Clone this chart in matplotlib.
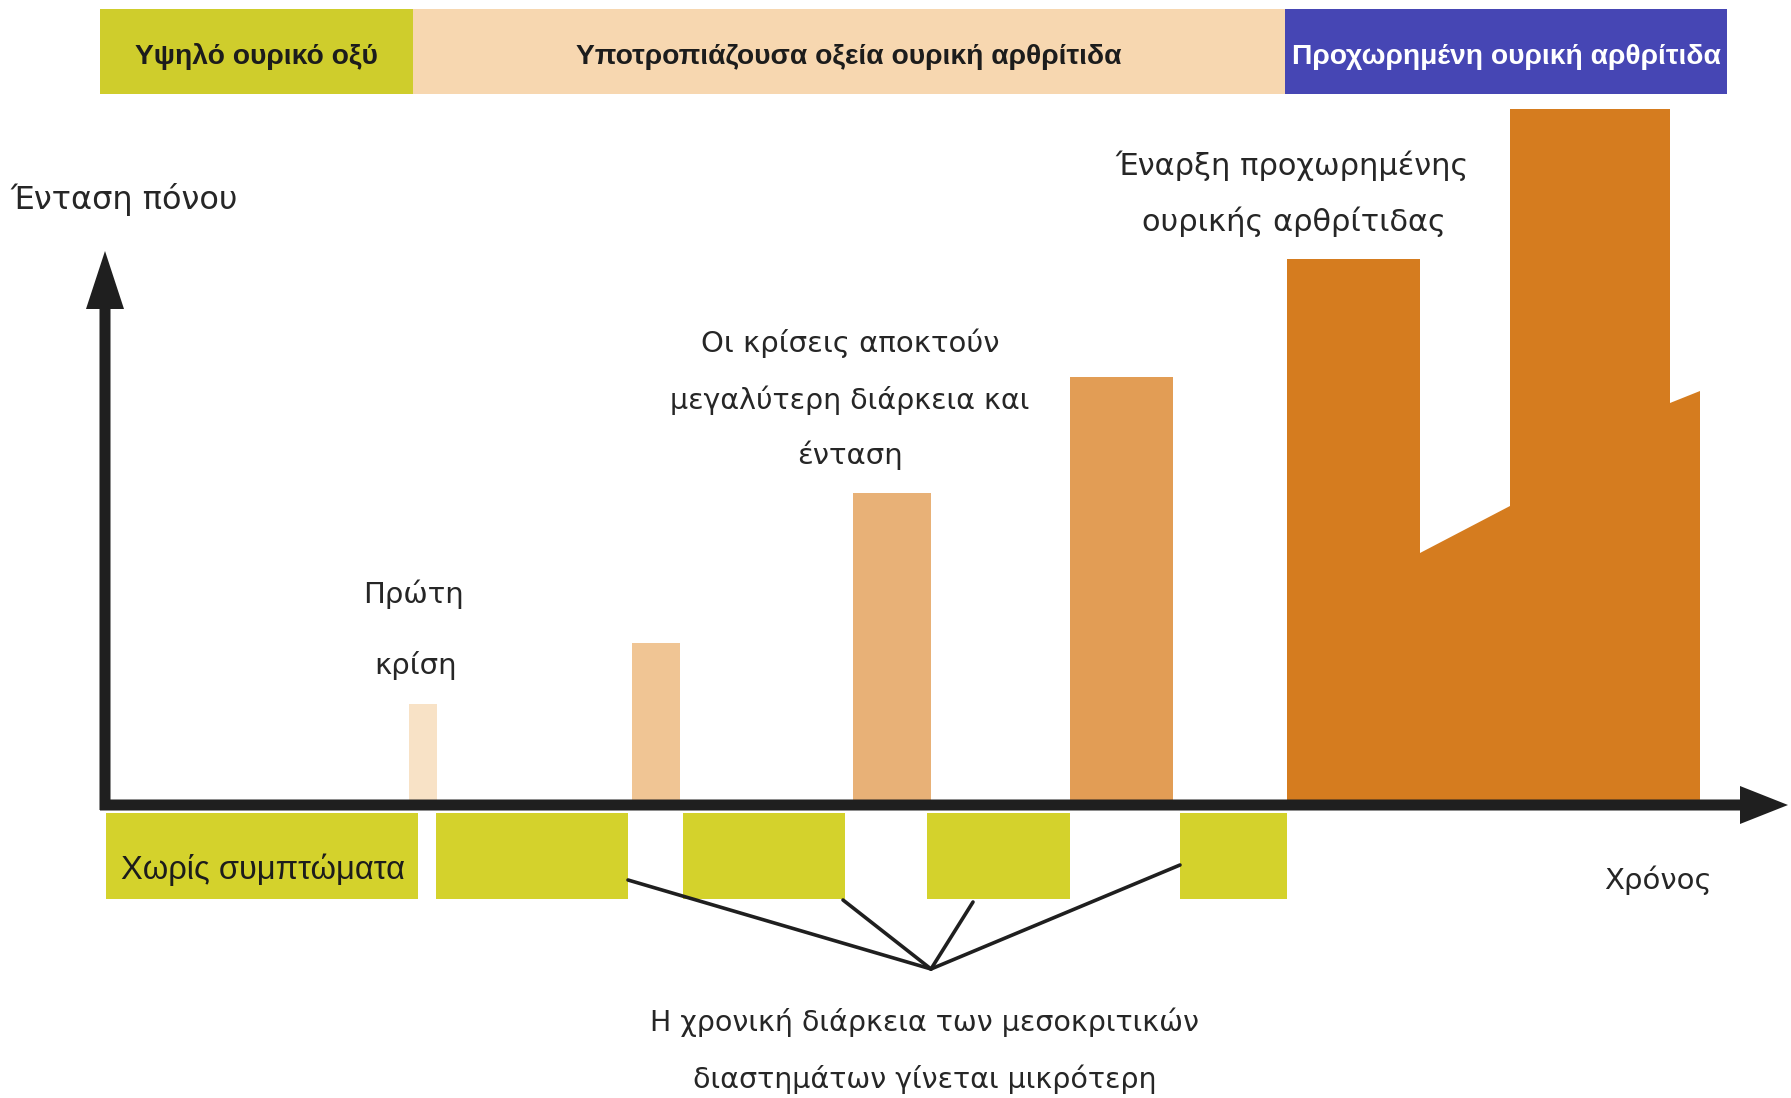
import matplotlib
matplotlib.use("Agg")
import matplotlib.pyplot as plt
from matplotlib.patches import FancyArrow, Rectangle, Polygon

plt.rcParams['font.family'] = ['DejaVu Sans']

# disease phases shown in the band across the top (time units)
phase_edges = [100, 413, 1285, 1727]
phase_labels = ["Υψηλό ουρικό οξύ",
                "Υποτροπιάζουσα οξεία ουρική αρθρίτιδα",
                "Προχωρημένη ουρική αρθρίτιδα"]
phase_colors = ["#cfcd2c", "#f7d7b0", "#4646b4"]
phase_text_colors = ["#1c1c1c", "#1c1c1c", "#ffffff"]

# acute attacks: start time, duration, pain intensity
attack_start = [409, 632, 853, 1070]
attack_width = [28, 48, 78, 103]
attack_height = [101, 162, 312, 428]
attack_colors = ["#f8e2c6", "#f0c594", "#e8b177", "#e29d55"]

# advanced gout: continuous pain outline (time, intensity)
adv_time = [1287, 1287, 1420, 1420, 1510, 1510, 1670, 1670, 1700, 1700]
adv_pain = [0, 546, 546, 252, 299, 696, 696, 402, 414, 0]
adv_color = "#d57c1f"

# symptom-free / intercritical periods under the time axis
gap_start = [106, 436, 683, 927, 1180]
gap_end = [418, 628, 845, 1070, 1287]
gap_color = "#d4d22c"

# pointer lines from the intercritical periods to their caption
hub = (931, -164)
pointer_from = [(628, -75), (843, -95), (973, -97), (1180, -60)]

W, H = 1791, 1098
fig = plt.figure(figsize=(W / 100, H / 100), dpi=100)
ax = fig.add_axes([0, 0, 1, 1])
ax.set_xlim(0, W)
ax.set_ylim(-(H - 805), 805)
ax.axis('off')

ink = "#1f1f1f"
narrow = ['Liberation Sans', 'DejaVu Sans']

# phase band
for i, label in enumerate(phase_labels):
    x0, x1 = phase_edges[i], phase_edges[i + 1]
    ax.add_patch(Rectangle((x0, 711), x1 - x0, 85, color=phase_colors[i], lw=0))
    ax.text((x0 + x1) / 2, 748, label, ha='center', va='center', fontsize=20.3,
            fontweight='bold', color=phase_text_colors[i], family=narrow)

# attacks
for s, w, h, c in zip(attack_start, attack_width, attack_height, attack_colors):
    ax.bar(s, h, width=w, align='edge', color=c, lw=0, zorder=2)

ax.add_patch(Polygon(list(zip(adv_time, adv_pain)), closed=True,
                     color=adv_color, lw=0, zorder=2))

# intercritical periods
for s, e in zip(gap_start, gap_end):
    ax.add_patch(Rectangle((s, -94), e - s, 86, color=gap_color, lw=0, zorder=2))

for p in pointer_from:
    ax.plot([p[0], hub[0]], [p[1], hub[1]], color=ink, lw=2.6, zorder=3,
            solid_capstyle='round')

# axes with arrow heads
ax.add_patch(FancyArrow(100, 0, 1688, 0, width=11, head_width=38, head_length=48,
                        length_includes_head=True, color=ink, lw=0, zorder=4))
ax.add_patch(FancyArrow(105, -5, 0, 559, width=11, head_width=38, head_length=58,
                        length_includes_head=True, color=ink, lw=0, zorder=4))

# annotations
txt = dict(ha='center', va='center', color="#262626", fontsize=21)
ax.text(124, 605, "Ένταση πόνου", **dict(txt, fontsize=23))
ax.text(1658, -75, "Χρόνος", **txt)
ax.text(1292, 639, "Έναρξη προχωρημένης", **dict(txt, fontsize=22))
ax.text(1294, 583, "ουρικής αρθρίτιδας", **dict(txt, fontsize=22))
ax.text(850, 462, "Οι κρίσεις αποκτούν", **txt)
ax.text(850, 405, "μεγαλύτερη διάρκεια και", **dict(txt, fontsize=20.5))
ax.text(850, 350, "ένταση", **txt)
ax.text(413, 211, "Πρώτη", **txt)
ax.text(416, 139, "κρίση", **txt)
ax.text(925, -217, "Η χρονική διάρκεια των μεσοκριτικών", **dict(txt, fontsize=20.5))
ax.text(925, -274, "διαστημάτων γίνεται μικρότερη", **dict(txt, fontsize=20.5))
ax.text(263, -65, "Χωρίς συμπτώματα", ha='center', va='center', color="#1c1c1c",
        fontsize=23.5, family=narrow, zorder=3)

fig.savefig("out.png", dpi=100, facecolor='white')
